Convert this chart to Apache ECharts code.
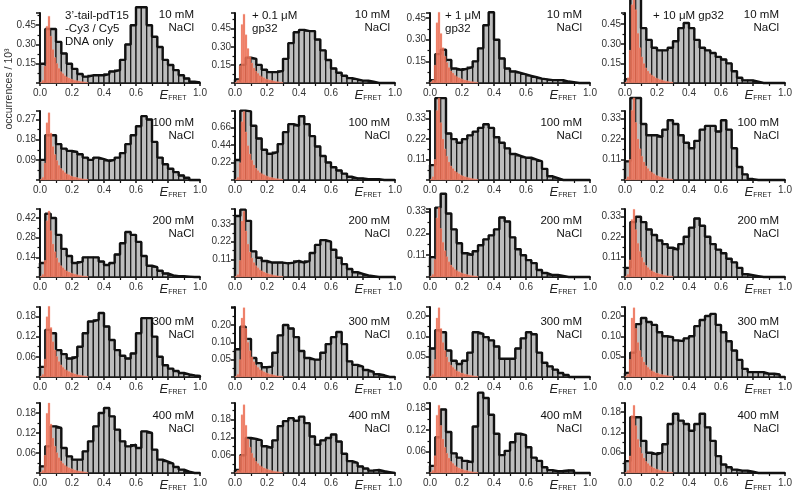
<!DOCTYPE html>
<html><head><meta charset="utf-8">
<script src="https://cdn.jsdelivr.net/npm/echarts@6/dist/echarts.min.js"></script>
<style>html,body{margin:0;padding:0;background:#fff}#c{width:792px;height:497px}</style>
</head><body><div id="c"></div>
<script>
// ---- histogram data (occurrences / 10^3), gray bins width 1/30 from 0 to 1 ----
const binWidth = 1 / 30;
const redBinWidth = 0.0125;
const salts = ['10 mM', '100 mM', '200 mM', '300 mM', '400 mM'];
const xTickLabels = ['0.0', '0.2', '0.4', '0.6', 'EFRET', '1.0'];

// DNA only
const dna_10  = [0.15,0.42,0.42,0.32,0.23,0.15,0.11,0.07,0.05,0.06,0.06,0.06,0.07,0.09,0.1,0.18,0.3,0.45,0.59,0.59,0.45,0.36,0.28,0.18,0.14,0.1,0.06,0.035,0.01,0.005];
const dna_100 = [0.09,0.2,0.2,0.16,0.14,0.13,0.125,0.115,0.1,0.09,0.1,0.093,0.085,0.09,0.1,0.12,0.16,0.2,0.24,0.285,0.27,0.17,0.1,0.07,0.05,0.035,0.02,0.01,0,0];
const dna_200 = [0.1,0.45,0.42,0.3,0.2,0.15,0.1,0.11,0.14,0.14,0.14,0.11,0.085,0.1,0.16,0.24,0.32,0.3,0.25,0.15,0.08,0.07,0.045,0.025,0.012,0.005,0.005,0.003,0,0];
const dna_300 = [0.03,0.14,0.13,0.08,0.068,0.055,0.06,0.09,0.13,0.165,0.17,0.19,0.15,0.11,0.08,0.063,0.055,0.07,0.13,0.175,0.175,0.12,0.06,0.035,0.025,0.018,0.012,0.008,0.005,0.003];
const dna_400 = [0.02,0.08,0.14,0.135,0.075,0.05,0.04,0.04,0.065,0.095,0.14,0.18,0.195,0.17,0.13,0.095,0.08,0.085,0.075,0.125,0.12,0.07,0.04,0.034,0.028,0.018,0.01,0.004,0,0];
// + 0.1 uM gp32
const g01_10  = [0.03,0.15,0.21,0.2,0.15,0.11,0.09,0.09,0.1,0.2,0.33,0.42,0.44,0.43,0.43,0.36,0.27,0.19,0.12,0.085,0.06,0.04,0.03,0.02,0.02,0.01,0,0,0,0];
const g01_100 = [0.25,0.87,0.86,0.68,0.52,0.38,0.33,0.35,0.45,0.6,0.7,0.68,0.8,0.7,0.55,0.42,0.3,0.22,0.16,0.12,0.08,0.04,0.02,0.02,0.01,0.01,0.01,0,0,0];
const g01_200 = [0.38,0.42,0.35,0.16,0.12,0.1,0.09,0.09,0.09,0.085,0.09,0.1,0.09,0.1,0.15,0.2,0.23,0.22,0.17,0.12,0.08,0.05,0.03,0.02,0.01,0.005,0,0,0,0];
const g01_300 = [0.08,0.145,0.11,0.055,0.04,0.028,0.03,0.07,0.12,0.15,0.14,0.115,0.075,0.055,0.05,0.05,0.07,0.095,0.115,0.13,0.095,0.045,0.035,0.03,0.02,0.015,0.008,0.005,0,0];
const g01_400 = [0.01,0.06,0.118,0.115,0.11,0.09,0.085,0.11,0.158,0.175,0.185,0.176,0.19,0.168,0.123,0.095,0.11,0.118,0.13,0.106,0.065,0.04,0.034,0.022,0.015,0.008,0.01,0.006,0.003,0];
// + 1 uM gp32
const g1_10  = [0.02,0.2,0.23,0.16,0.1,0.09,0.1,0.11,0.15,0.24,0.4,0.49,0.3,0.17,0.1,0.08,0.07,0.06,0.05,0.04,0.03,0.025,0.02,0.02,0.02,0.01,0.005,0,0,0];
const g1_100 = [0.08,0.44,0.44,0.25,0.22,0.2,0.22,0.24,0.26,0.28,0.3,0.28,0.23,0.2,0.17,0.14,0.13,0.12,0.12,0.11,0.1,0.06,0.02,0.01,0,0,0,0,0,0];
const g1_200 = [0.1,0.35,0.42,0.32,0.24,0.17,0.12,0.11,0.13,0.16,0.19,0.21,0.24,0.3,0.28,0.2,0.14,0.11,0.085,0.07,0.035,0.02,0.01,0.01,0.005,0,0,0,0,0];
const g1_300 = [0.07,0.115,0.11,0.065,0.04,0.032,0.04,0.06,0.11,0.106,0.098,0.09,0.075,0.045,0.045,0.045,0.07,0.095,0.11,0.105,0.06,0.035,0.026,0.018,0.01,0.005,0,0,0,0];
const g1_400 = [0.02,0.1,0.178,0.115,0.055,0.043,0.034,0.03,0.13,0.225,0.21,0.163,0.11,0.05,0.062,0.086,0.11,0.106,0.072,0.043,0.034,0.016,0.008,0.005,0.005,0.007,0.007,0,0,0];
// + 10 uM gp32
const g10_10  = [0.03,0.66,0.66,0.42,0.33,0.27,0.25,0.25,0.27,0.32,0.42,0.46,0.42,0.33,0.27,0.25,0.23,0.2,0.18,0.15,0.09,0.04,0.02,0.02,0.01,0,0,0,0,0];
const g10_100 = [0.1,0.44,0.44,0.3,0.24,0.24,0.23,0.27,0.32,0.3,0.24,0.2,0.17,0.21,0.27,0.29,0.29,0.26,0.32,0.27,0.17,0.07,0.03,0.005,0,0,0,0,0,0];
const g10_200 = [0.05,0.3,0.33,0.3,0.26,0.23,0.2,0.18,0.16,0.15,0.18,0.22,0.27,0.32,0.28,0.22,0.18,0.15,0.13,0.1,0.08,0.05,0.015,0.01,0.005,0,0,0,0,0];
const g10_300 = [0.01,0.06,0.13,0.145,0.135,0.128,0.11,0.1,0.098,0.09,0.088,0.095,0.1,0.125,0.14,0.15,0.155,0.128,0.11,0.088,0.065,0.042,0.02,0.012,0.012,0.012,0.008,0.008,0.006,0];
const g10_400 = [0.035,0.165,0.165,0.095,0.06,0.055,0.06,0.085,0.145,0.175,0.155,0.145,0.125,0.145,0.175,0.135,0.095,0.05,0.025,0.017,0.01,0.007,0.007,0.004,0,0,0,0,0,0];

// red (donor-only) histograms, bins width 0.0125 from 0 to 0.3
const red_dna_10  = [0.005,0.021,0.13,0.442,0.52,0.364,0.26,0.198,0.151,0.114,0.088,0.073,0.057,0.047,0.039,0.031,0.026,0.022,0.018,0.015,0.011,0.009,0.007,0.005];
const red_dna_100 = [0.003,0.012,0.075,0.255,0.3,0.21,0.15,0.114,0.087,0.066,0.051,0.042,0.033,0.027,0.023,0.018,0.015,0.013,0.011,0.008,0.007,0.005,0.004,0.003];
const red_dna_200 = [0.005,0.019,0.118,0.4,0.47,0.329,0.235,0.179,0.136,0.103,0.08,0.066,0.052,0.042,0.035,0.028,0.024,0.02,0.016,0.013,0.01,0.008,0.006,0.005];
const red_dna_300 = [0.002,0.008,0.053,0.179,0.21,0.147,0.105,0.08,0.061,0.046,0.036,0.029,0.023,0.019,0.016,0.013,0.011,0.009,0.007,0.006,0.005,0.004,0.003,0.002];
const red_dna_400 = [0.002,0.008,0.053,0.179,0.21,0.147,0.105,0.08,0.061,0.046,0.036,0.029,0.023,0.019,0.016,0.013,0.011,0.009,0.007,0.006,0.005,0.004,0.003,0.002];
const red_g01_10  = [0.006,0.023,0.143,0.485,0.57,0.399,0.285,0.217,0.165,0.125,0.097,0.08,0.063,0.051,0.043,0.034,0.029,0.024,0.02,0.016,0.013,0.01,0.007,0.006];
const red_g01_100 = [0.009,0.034,0.215,0.731,0.86,0.602,0.43,0.327,0.249,0.189,0.146,0.12,0.095,0.077,0.065,0.052,0.043,0.036,0.03,0.024,0.019,0.015,0.011,0.009];
const red_g01_200 = [0.004,0.016,0.103,0.349,0.41,0.287,0.205,0.156,0.119,0.09,0.07,0.057,0.045,0.037,0.031,0.025,0.021,0.017,0.014,0.011,0.009,0.007,0.005,0.004];
const red_g01_300 = [0.002,0.008,0.05,0.17,0.2,0.14,0.1,0.076,0.058,0.044,0.034,0.028,0.022,0.018,0.015,0.012,0.01,0.008,0.007,0.006,0.004,0.003,0.003,0.002];
const red_g01_400 = [0.002,0.009,0.058,0.196,0.23,0.161,0.115,0.087,0.067,0.051,0.039,0.032,0.025,0.021,0.017,0.014,0.012,0.01,0.008,0.006,0.005,0.004,0.003,0.002];
const red_g1_10  = [0.005,0.02,0.123,0.417,0.49,0.343,0.245,0.186,0.142,0.108,0.083,0.069,0.054,0.044,0.037,0.029,0.025,0.021,0.017,0.014,0.011,0.008,0.006,0.005];
const red_g1_100 = [0.004,0.018,0.11,0.374,0.44,0.308,0.22,0.167,0.128,0.097,0.075,0.062,0.048,0.04,0.033,0.026,0.022,0.018,0.015,0.012,0.01,0.007,0.006,0.004];
const red_g1_200 = [0.004,0.014,0.088,0.298,0.35,0.245,0.175,0.133,0.102,0.077,0.06,0.049,0.039,0.032,0.026,0.021,0.018,0.015,0.012,0.01,0.008,0.006,0.005,0.004];
const red_g1_300 = [0.002,0.007,0.043,0.145,0.17,0.119,0.085,0.065,0.049,0.037,0.029,0.024,0.019,0.015,0.013,0.01,0.009,0.007,0.006,0.005,0.004,0.003,0.002,0.002];
const red_g1_400 = [0.002,0.008,0.048,0.162,0.19,0.133,0.095,0.072,0.055,0.042,0.032,0.027,0.021,0.017,0.014,0.011,0.01,0.008,0.007,0.005,0.004,0.003,0.002,0.002];
const red_g10_10  = [0.007,0.04,0.25,0.6,0.66,0.56,0.38,0.27,0.2,0.15,0.115,0.092,0.072,0.059,0.049,0.039,0.033,0.027,0.023,0.018,0.014,0.011,0.008,0.007];
const red_g10_100 = [0.004,0.018,0.11,0.374,0.44,0.308,0.22,0.167,0.128,0.097,0.075,0.062,0.048,0.04,0.033,0.026,0.022,0.018,0.015,0.012,0.01,0.007,0.006,0.004];
const red_g10_200 = [0.004,0.015,0.093,0.315,0.37,0.259,0.185,0.141,0.107,0.081,0.063,0.052,0.041,0.033,0.028,0.022,0.019,0.016,0.013,0.01,0.008,0.006,0.005,0.004];
const red_g10_300 = [0.002,0.007,0.043,0.145,0.17,0.119,0.085,0.065,0.049,0.037,0.029,0.024,0.019,0.015,0.013,0.01,0.009,0.007,0.006,0.005,0.004,0.003,0.002,0.002];
const red_g10_400 = [0.002,0.008,0.05,0.17,0.2,0.14,0.1,0.076,0.058,0.044,0.034,0.028,0.022,0.018,0.015,0.012,0.01,0.008,0.007,0.006,0.004,0.003,0.003,0.002];

// y axis ranges & tick labels per row (4 columns each)
const yMax = [
  [0.545, 0.58, 0.485, 0.536],
  [0.308, 0.865, 0.371, 0.37],
  [0.484, 0.424, 0.343, 0.372],
  [0.208, 0.202, 0.172, 0.172],
  [0.21, 0.236, 0.196, 0.207]
];
const yStep = [
  [0.15, 0.15, 0.15, 0.15],
  [0.09, 0.22, 0.11, 0.11],
  [0.14, 0.11, 0.11, 0.11],
  [0.06, 0.05, 0.05, 0.05],
  [0.06, 0.06, 0.06, 0.06]
];
const yLabels = [
  [['0.15','0.30','0.45'], ['0.15','0.30','0.45'], ['0.15','0.30','0.45'], ['0.15','0.30','0.45']],
  [['0.09','0.18','0.27'], ['0.22','0.44','0.66'], ['0.11','0.22','0.33'], ['0.11','0.22','0.33']],
  [['0.14','0.28','0.42'], ['0.11','0.22','0.33'], ['0.11','0.22','0.33'], ['0.11','0.22','0.33']],
  [['0.06','0.12','0.18'], ['0.05','0.10','0.20'], ['0.05','0.10','0.20'], ['0.05','0.10','0.20']],
  [['0.06','0.12','0.18'], ['0.06','0.12','0.18'], ['0.06','0.12','0.18'], ['0.06','0.12','0.18']]
];

const grayData = [
  [dna_10, g01_10, g1_10, g10_10],
  [dna_100, g01_100, g1_100, g10_100],
  [dna_200, g01_200, g1_200, g10_200],
  [dna_300, g01_300, g1_300, g10_300],
  [dna_400, g01_400, g1_400, g10_400]
];
const redData = [
  [red_dna_10, red_g01_10, red_g1_10, red_g10_10],
  [red_dna_100, red_g01_100, red_g1_100, red_g10_100],
  [red_dna_200, red_g01_200, red_g1_200, red_g10_200],
  [red_dna_300, red_g01_300, red_g1_300, red_g10_300],
  [red_dna_400, red_g01_400, red_g1_400, red_g10_400]
];

// ---- layout ----
const FONT = 'Liberation Sans, Arial, Helvetica, sans-serif';
const colLeft = [40, 235, 430, 625];
const colW = 160;
const rowTop = [13, 111, 209, 307, 403];
const rowH = [70, 69, 68, 70, 70];
const saltRight = [194, 390, 582, 779];
const saltY = [15, 123, 221, 322, 416];

const chart = echarts.init(document.getElementById('c'), null, {renderer: 'canvas'});

const grids = [], xAxes = [], yAxes = [], series = [], graphics = [];

function rectItem(params, api, style) {
  const p0 = api.coord([api.value(0), api.value(2)]);
  const p1 = api.coord([api.value(1), 0]);
  return {type: 'rect', shape: {x: p0[0], y: p0[1], width: p1[0] - p0[0], height: p1[1] - p0[1]}, style: style};
}

let k = 0;
for (let r = 0; r < 5; r++) {
  for (let c = 0; c < 4; c++) {
    grids.push({left: colLeft[c], top: rowTop[r], width: colW, height: rowH[r], containLabel: false, outerBoundsMode: 'none'});
    xAxes.push({
      gridIndex: k, type: 'value', min: 0, max: 1, interval: 0.2,
      axisLine: {show: true, onZero: false, lineStyle: {color: '#111', width: 2}},
      axisTick: {show: true, length: 3, lineStyle: {color: '#111', width: 1.5}},
      minorTick: {show: true, splitNumber: 2, length: 3, lineStyle: {color: '#111', width: 1.2}},
      splitLine: {show: false},
      axisLabel: {
        fontSize: 10, color: '#333', fontFamily: FONT, margin: 5,
        formatter: function (v) {
          const i = Math.round(v / 0.2);
          const t = xTickLabels[i];
          if (t === 'EFRET') return '{e|E}{s|FRET}';
          return t || '';
        },
        rich: {
          e: {fontSize: 13, fontStyle: 'italic', fontFamily: FONT, color: '#222', padding: [0, 0, 0, 10]},
          s: {fontSize: 7, fontFamily: FONT, color: '#222', padding: [7, 0, 0, 0]}
        }
      }
    });
    const labs = yLabels[r][c], st = yStep[r][c];
    yAxes.push({
      gridIndex: k, type: 'value', min: 0, max: yMax[r][c], interval: st,
      axisLine: {show: true, onZero: false, lineStyle: {color: '#111', width: 2}},
      axisTick: {show: true, length: 4, lineStyle: {color: '#111', width: 1.5}},
      minorTick: {show: true, splitNumber: 2, length: 2.5, lineStyle: {color: '#111', width: 1.2}},
      splitLine: {show: false},
      axisLabel: {
        fontSize: 10, color: '#333', fontFamily: FONT, margin: 4, showMaxLabel: false,
        formatter: function (v) {
          const i = Math.round(v / st);
          if (Math.abs(v - i * st) > 1e-6) return '';
          return (i >= 1 && i <= labs.length) ? labs[i - 1] : '';
        }
      }
    });
    const g = grayData[r][c];
    series.push({
      type: 'custom', xAxisIndex: k, yAxisIndex: k, silent: true, clip: false, z: 2,
      data: g.map((v, i) => [i * binWidth, (i + 1) * binWidth, v]),
      renderItem: (p, api) => rectItem(p, api, {fill: '#bdbdbd', stroke: '#1c1c1c', lineWidth: 1.3})
    });
    const env = [[0, 0]];
    g.forEach((v, i) => env.push([i * binWidth, v]));
    env.push([1, 0]);
    series.push({
      type: 'line', xAxisIndex: k, yAxisIndex: k, silent: true, clip: false, z: 3,
      step: 'end', showSymbol: false, symbol: 'none', data: env,
      lineStyle: {color: '#111', width: 2.4}, animation: false
    });
    const rd = redData[r][c];
    series.push({
      type: 'custom', xAxisIndex: k, yAxisIndex: k, silent: true, clip: false, z: 4,
      data: rd.map((v, i) => [i * redBinWidth, (i + 1) * redBinWidth, v]),
      renderItem: (p, api) => rectItem(p, api, {fill: 'rgba(232,92,62,0.82)', stroke: 'rgba(250,170,150,0.7)', lineWidth: 0.5})
    });
    // salt label
    graphics.push({
      type: 'text', x: saltRight[c], y: saltY[r] - 6, z: 10,
      style: {text: salts[r] + '\nNaCl', fontSize: 11.5, fontFamily: FONT, fill: '#111', align: 'right', verticalAlign: 'top', lineHeight: 12.5}
    });
    k++;
  }
}

// condition labels (top row)
graphics.push({type: 'text', x: 65, y: 9, z: 10, style: {text: '3’-tail-pdT15\n-Cy3 / Cy5\nDNA only', fontSize: 11.5, fontFamily: FONT, fill: '#111', align: 'left', verticalAlign: 'top', lineHeight: 13}});
graphics.push({type: 'text', x: 252, y: 9, z: 10, style: {text: '+ 0.1 μM\ngp32', fontSize: 11.5, fontFamily: FONT, fill: '#111', align: 'left', verticalAlign: 'top', lineHeight: 13}});
graphics.push({type: 'text', x: 445, y: 9, z: 10, style: {text: '+ 1 μM\ngp32', fontSize: 11.5, fontFamily: FONT, fill: '#111', align: 'left', verticalAlign: 'top', lineHeight: 13}});
graphics.push({type: 'text', x: 653, y: 9, z: 10, style: {text: '+ 10 μM gp32', fontSize: 11.5, fontFamily: FONT, fill: '#111', align: 'left', verticalAlign: 'top', lineHeight: 13}});
// y axis title
graphics.push({type: 'text', x: 9, y: 89, rotation: Math.PI / 2, z: 10, style: {text: 'occurrences / 10³', fontSize: 10.5, fontFamily: FONT, fill: '#333', align: 'center', verticalAlign: 'middle'}});

chart.setOption({
  animation: false,
  backgroundColor: '#fff',
  grid: grids, xAxis: xAxes, yAxis: yAxes, series: series, graphic: graphics
});
</script></body></html>
